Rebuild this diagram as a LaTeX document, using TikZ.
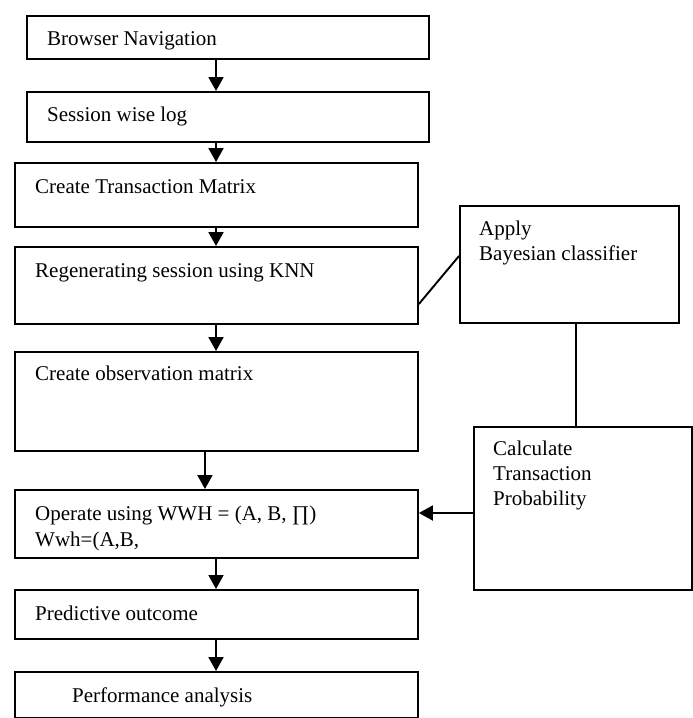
\documentclass[tikz,border=0pt]{standalone}
\usepackage{fontspec}
\setmainfont{Liberation Serif}
\usetikzlibrary{arrows.meta}
\begin{document}
\begin{tikzpicture}[x=1pt,y=-1pt,
  box/.style={draw=black, line width=1.9pt, rectangle, inner sep=0pt, anchor=north west},
  txt/.style={inner sep=0pt, anchor=base west, font=\fontsize{21}{25}\selectfont, align=left},
  arr/.style={line width=1.9pt, -{Triangle[length=14pt,width=15pt]}},
  conn/.style={line width=1.9pt}]
\useasboundingbox (0,0) rectangle (693,718);
% flow boxes
\node[box, minimum width=402pt, minimum height=43pt] (b1) at (26,15) {};
\node[box, minimum width=402pt, minimum height=50pt] (b2) at (26,91) {};
\node[box, minimum width=403pt, minimum height=64pt] (b3) at (14,162) {};
\node[box, minimum width=403pt, minimum height=77pt] (b4) at (14,246) {};
\node[box, minimum width=403pt, minimum height=99pt] (b5) at (14,351) {};
\node[box, minimum width=403pt, minimum height=68pt] (b6) at (14,489) {};
\node[box, minimum width=403pt, minimum height=49pt] (b7) at (14,589) {};
\node[box, minimum width=403pt, minimum height=46pt] (b8) at (14,671) {};
% side boxes
\node[box, minimum width=219pt, minimum height=117pt] (bay) at (459,205) {};
\node[box, minimum width=218pt, minimum height=163pt] (calc) at (473,426) {};
% texts
\node[txt] (t1) at (47,45) {Browser Navigation};
\node[txt] (t2) at (47,121) {Session wise log};
\node[txt] (t3) at (35,193) {Create Transaction Matrix};
\node[txt] (t4) at (35,277) {Regenerating session using KNN};
\node[txt] (t5) at (35,380) {Create observation matrix};
\node[txt] (t6) at (35,520) {Operate using WWH = (A, B, ∏)};
\node[txt] (t6b) at (35,546) {Wwh=(A,B,};
\node[txt] (t7) at (35,620) {Predictive outcome};
\node[txt] (t8) at (72,702) {Performance analysis};
\node[txt] (ta) at (479,235) {Apply};
\node[txt] (tb) at (479,260) {Bayesian classifier};
\node[txt] (tc1) at (493,455) {Calculate};
\node[txt] (tc2) at (493,480) {Transaction};
\node[txt] (tc3) at (493,505) {Probability};
% coordinates
\coordinate (cx) at (216,0);
% connectors
\draw[arr] (b1.south -| cx) -- (b2.north -| cx);
\draw[arr] (b2.south -| cx) -- (b3.north -| cx);
\draw[arr] (b3.south -| cx) -- (b4.north -| cx);
\draw[arr] (b4.south -| cx) -- (b5.north -| cx);
\draw[arr] ([xshift=-11.5pt]b5.south) -- ([xshift=-11.5pt]b6.north);
\draw[arr] (b6.south -| cx) -- (b7.north -| cx);
\draw[arr] (b7.south -| cx) -- (b8.north -| cx);
\coordinate (ya) at (0,513);
\draw[arr] (calc.west |- ya) -- (b6.east |- ya);
\coordinate (xl) at (576,0);
\draw[conn] (bay.south -| xl) -- (calc.north -| xl);
\coordinate (y1) at (0,304);
\coordinate (y2) at (0,256);
\draw[conn] (b4.east |- y1) -- (bay.west |- y2);
\end{tikzpicture}
\end{document}
